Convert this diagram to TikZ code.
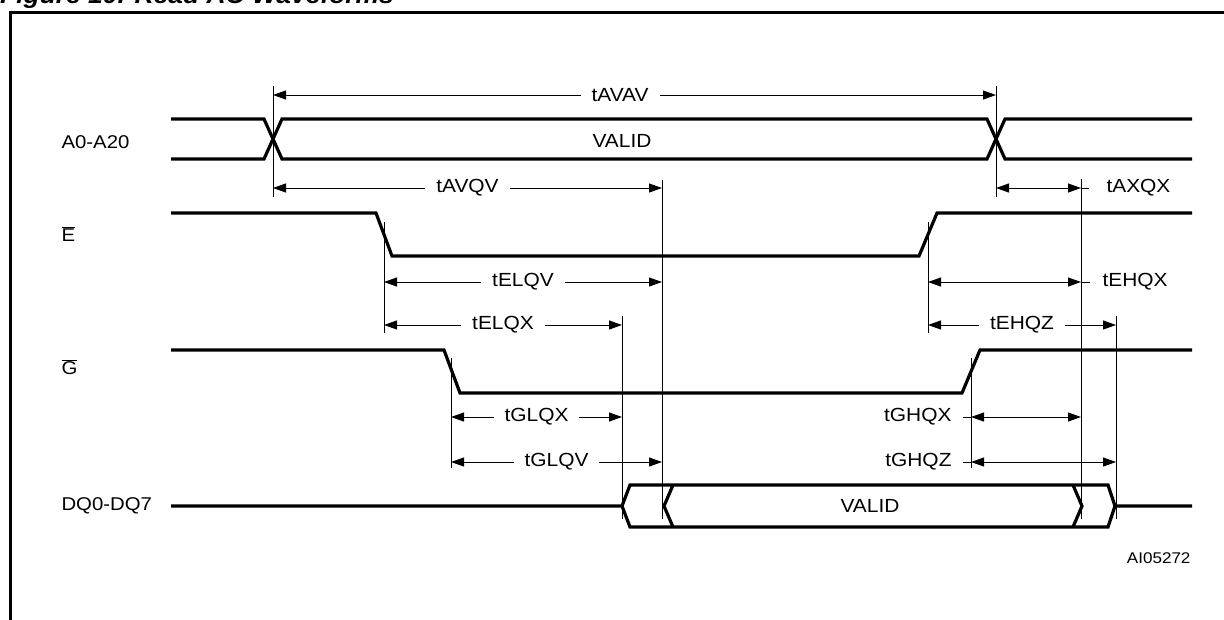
\documentclass[tikz,border=0pt]{standalone}
\usepackage{fontspec}
\setmainfont[FakeStretch=1.1]{Liberation Sans}
\usetikzlibrary{arrows.meta}
\tikzset{
    sig/.style={line width=3.2pt},
    tck/.style={line width=1pt},
    dim/.style={line width=1pt,{Triangle[length=13pt,width=9pt]}-{Triangle[length=13pt,width=9pt]}},
    lbl/.style={fill=white,inner xsep=11pt,inner ysep=1pt,font=\fontsize{19}{21}\selectfont},
    sname/.style={anchor=west,font=\fontsize{18.5}{20}\selectfont}
}

\begin{document}
\begin{tikzpicture}[x=1pt,y=-1pt,line cap=butt,line join=miter]
            \useasboundingbox (0,0) rectangle (1224,619);

            % frame and title
            \node[anchor=base west,inner sep=0pt,font=\fontsize{24}{26}\selectfont\bfseries\itshape] (title) at (0,3.5) {Figure 10. Read AC Waveforms};
            \draw[line width=3pt] (10.5,625) -- (10.5,12.5) -- (1230,12.5);

            % event times
            \coordinate (AV) at (273, 0);
            \coordinate (AX) at (996, 0);
            \coordinate (EL) at (384, 0);
            \coordinate (EH) at (928, 0);
            \coordinate (GL) at (451, 0);
            \coordinate (GH) at (971, 0);
            \coordinate (QX) at (622, 0);
            \coordinate (QV) at (662, 0);
            \coordinate (QH) at (1081, 0);
            \coordinate (QZ) at (1116, 0);

            % signal names
            \node[sname] (nA) at (58,142) {A0-A20};
            \node[sname] (nE) at (58,234) {$\overline{\mbox{E}}$};
            \node[sname] (nG) at (58,367) {$\overline{\mbox{G}}$};
            \node[sname] (nQ) at (58,506) {DQ0-DQ7};

            % waveforms
            \draw[sig] (171,119) -- (264,119) -- (282,159) -- (987,159) -- (1005,119) -- (1192,119);
            \draw[sig] (171,159) -- (264,159) -- (282,119) -- (987,119) -- (1005,159) -- (1192,159);
            \node[font=\fontsize{19}{21}\selectfont] (vA) at (622,141) {VALID};

            \draw[sig] (171,213) -- (376,213) -- (392,256) -- (919,256) -- (937,213) -- (1192,213);
            \draw[sig] (171,350) -- (444,350) -- (460,393) -- (962,393) -- (980,350) -- (1192,350);

            \draw[sig] (171,506) -- (622,506) -- (630,485) -- (1108,485) -- (1115,506) -- (1192,506);
            \draw[sig] (622,506) -- (630,527) -- (1108,527) -- (1115,506);
            \draw[sig] (673,485) -- (664,506) -- (673,527);
            \draw[sig] (1073,485) -- (1082,506) -- (1073,527);
            \node[font=\fontsize{19}{21}\selectfont] (vQ) at (870,506) {VALID};

            % tick lines
            \draw[tck] (AV |- 0,86) -- (AV |- 0,197);
            \draw[tck] (AX |- 0,86) -- (AX |- 0,197);
            \draw[tck] (QV |- 0,180) -- (QV |- 0,519);
            \draw[tck] (QH |- 0,179) -- (QH |- 0,519);
            \draw[tck] (EL |- 0,222) -- (EL |- 0,333);
            \draw[tck] (EH |- 0,222) -- (EH |- 0,333);
            \draw[tck] (QX |- 0,316) -- (QX |- 0,519);
            \draw[tck] (QZ |- 0,316) -- (QZ |- 0,519);
            \draw[tck] (GL |- 0,358) -- (GL |- 0,468);
            \draw[tck] (GH |- 0,358) -- (GH |- 0,468);

            % timings
            \draw[dim] (AV |- 0,95) -- node[lbl,pos=0.48] {tAVAV} (AX |- 0,95);
            \draw[dim] (AV |- 0,188) -- node[lbl] {tAVQV} (QV |- 0,188);
            \draw[dim] (AX |- 0,188) -- (QH |- 0,188);
            \draw[tck] (QH |- 0,188) -- ++(8,0) node[lbl,anchor=west,inner xsep=6pt,xshift=11pt] {tAXQX};
            \draw[dim] (EL |- 0,282) -- node[lbl] {tELQV} (QV |- 0,282);
            \draw[dim] (EH |- 0,282) -- (QH |- 0,282);
            \draw[tck] (QH |- 0,282) -- ++(9,0) node[lbl,anchor=west,inner xsep=6pt,xshift=6pt] {tEHQX};
            \draw[dim] (EL |- 0,325) -- node[lbl] {tELQX} (QX |- 0,325);
            \draw[dim] (EH |- 0,325) -- node[lbl] {tEHQZ} (QZ |- 0,325);
            \draw[dim] (GL |- 0,417) -- node[lbl] {tGLQX} (QX |- 0,417);
            \draw[dim] (GL |- 0,462) -- node[lbl] {tGLQV} (QV |- 0,462);
            \draw[dim] (GH |- 0,417) -- (QH |- 0,417);
            \draw[tck] (GH |- 0,417) -- ++(-8,0) node[lbl,anchor=east,inner xsep=6pt,xshift=-5pt] {tGHQX};
            \draw[dim] (GH |- 0,462) -- (QZ |- 0,462);
            \draw[tck] (GH |- 0,462) -- ++(-8,0) node[lbl,anchor=east,inner xsep=6pt,xshift=-5pt] {tGHQZ};

            \node[anchor=east,font=\fontsize{15.5}{17}\selectfont] (fig) at (1194,558) {AI05272};
        \end{tikzpicture}
\end{document}
